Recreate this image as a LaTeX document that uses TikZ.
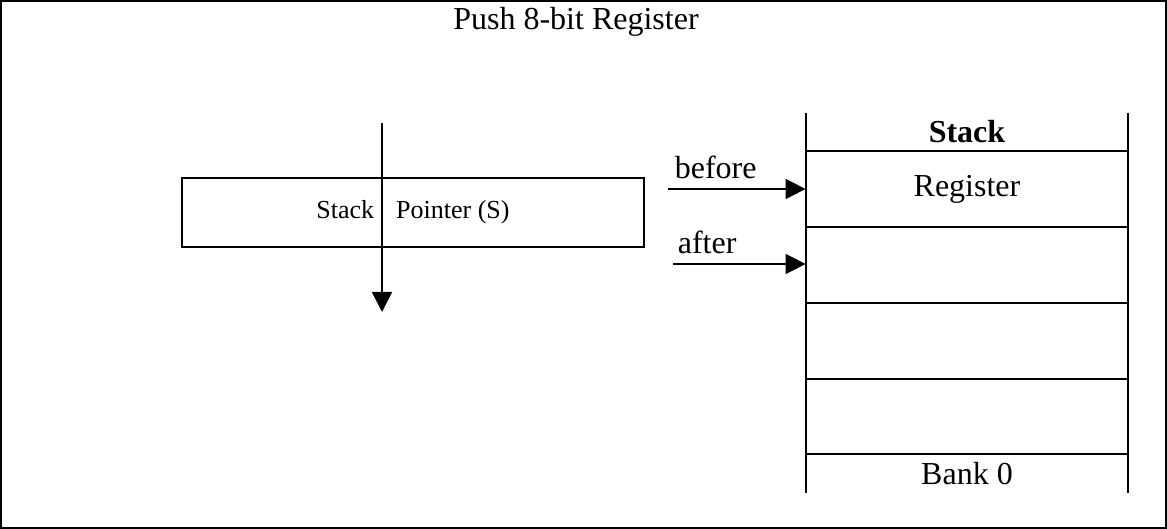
\documentclass[tikz,border=0pt]{standalone}
\usepackage{fontspec}
\setmainfont{Liberation Serif}
\usepackage{tikz}
\usetikzlibrary{arrows.meta, positioning}

\begin{document}
\begin{tikzpicture}[
        x=0.5pt, y=-0.5pt,
        >={Triangle[length=10pt, width=10pt]},
        line/.style={line width=1pt},
        ptr/.style={->, line width=0.8pt},
        cell/.style={minimum width=161pt, minimum height=38pt, inner sep=0pt, font=\fontsize{16}{19}\selectfont},
        edgecell/.style={cell, minimum height=19pt},
        label/.style={font=\fontsize{16}{19}\selectfont, inner sep=0pt}
    ]
    \useasboundingbox (0,0) rectangle (1167,529);
    \draw[line] (1,1) rectangle (1166,528);
    \node[label, anchor=base] (title) at (576,30) {Push 8-bit Register};

    % stack pointer register
    \node[draw, line, minimum width=231pt, minimum height=34.5pt, inner sep=0pt,
          font=\fontsize{13}{15}\selectfont] (sp) at (413,212.5) {Stack\hspace{11pt}Pointer (S)};
    \coordinate (sptop) at (382,123);
    \coordinate (spbot) at (382,312);
    \draw[ptr] (sptop) -- (spbot);

    % the stack
    \node[edgecell, font=\fontsize{16}{19}\selectfont\bfseries] (hdr) at (967,132) {Stack};
    \node[cell] (reg) at (967,189) {Register};
    \node[cell] (c1) at (967,265) {};
    \node[cell] (c2) at (967,341) {};
    \node[cell] (c3) at (967,417) {};
    \node[edgecell] (bank) at (967,473.5) {Bank 0};
    \draw[line] (hdr.north west) -- (bank.south west);
    \draw[line] (hdr.north east) -- (bank.south east);
    \foreach \c in {reg, c1, c2, c3, bank}
        \draw[line] (\c.north west) -- (\c.north east);

    % before / after
    \coordinate (bstart) at (668,189);
    \coordinate (astart) at (673,264);
    \draw[ptr] (bstart) -- (reg.west) node[label, pos=0, anchor=base west, yshift=5pt, xshift=3pt] (blabel) {before};
    \draw[ptr] (astart) -- (c1.west |- astart) node[label, pos=0, anchor=base west, yshift=5pt, xshift=2pt] (alabel) {after};
\end{tikzpicture}
\end{document}
